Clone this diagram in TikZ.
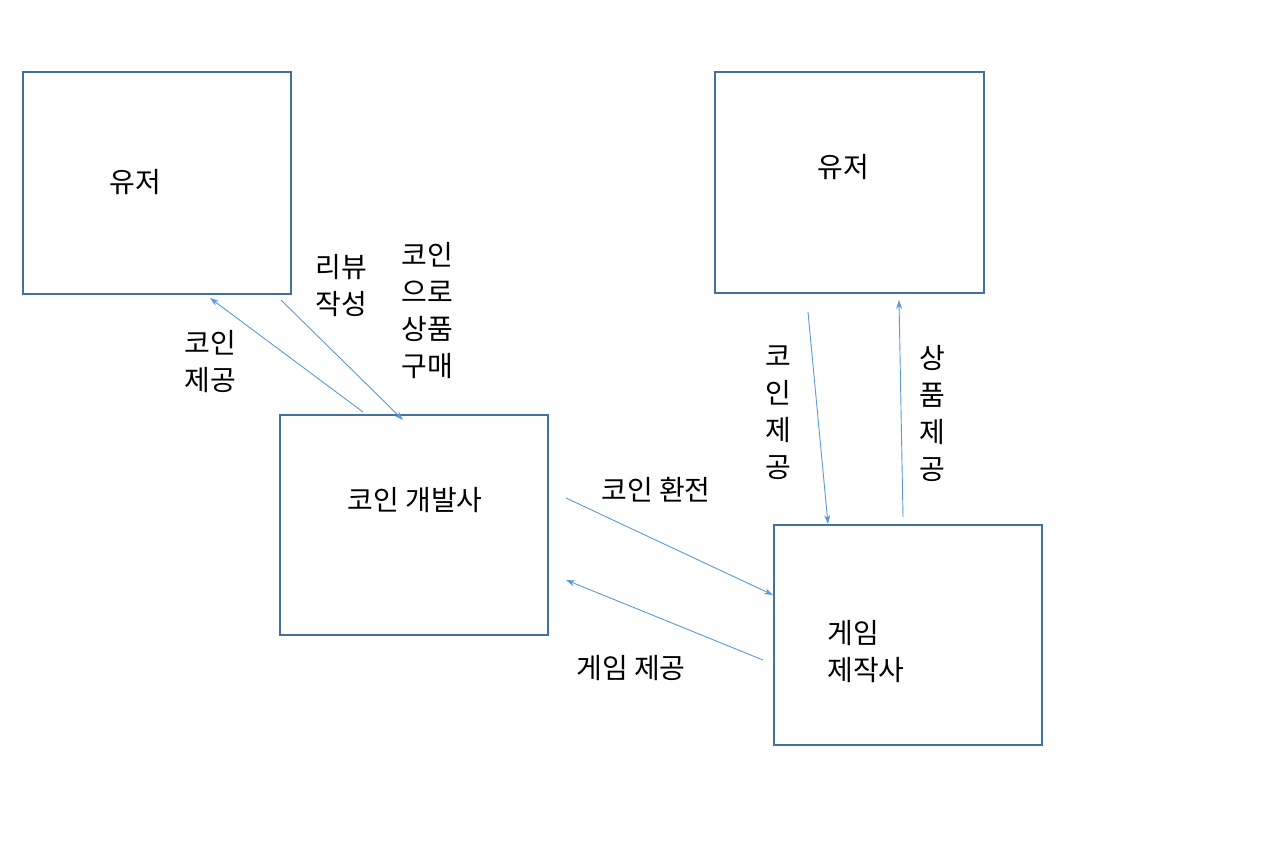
\documentclass[tikz,border=0pt]{standalone}
\usepackage{fontspec}
\usetikzlibrary{arrows.meta}
\newfontfamily\kr{Noto Sans CJK KR}
\definecolor{boxc}{HTML}{41719C}
\definecolor{arr}{HTML}{5B9BD5}
\begin{document}
\begin{tikzpicture}[x=1pt,y=-1pt,
  box/.style={draw=boxc,line width=1.6pt},
  con/.style={draw=arr,line width=0.9pt,-{Stealth[length=9pt,width=6pt]}},
  lbl/.style={font=\kr\fontsize{28}{37}\selectfont,align=center,inner sep=0pt},
  every node/.style={inner sep=0pt}]
\useasboundingbox[fill=white] (0,0) rectangle (1269,849);
\draw[box] (23,72) rectangle (291,294);
\draw[box] (715,72) rectangle (984,293);
\draw[box] (280,415) rectangle (548,635);
\draw[box] (774,525) rectangle (1042,745);
\node[lbl] (u1) at (135,182) {유저};
\node[lbl] (u2) at (843,167) {유저};
\node[lbl] (cd) at (415,500) {코인 개발사};
\node[lbl,align=left] (gm) at (866,652) {게임\\제작사};
\coordinate (a1s) at (363,412); \coordinate (a1e) at (210,298);
\coordinate (a2s) at (281,300); \coordinate (a2e) at (403,420);
\coordinate (a3s) at (566,498); \coordinate (a3e) at (773,595);
\coordinate (a4s) at (763,660); \coordinate (a4e) at (566,580);
\coordinate (a5s) at (808,312); \coordinate (a5e) at (828,524);
\coordinate (a6s) at (903,517); \coordinate (a6e) at (899,300);
\draw[con] (a1s) -- (a1e);
\draw[con] (a2s) -- (a2e);
\draw[con] (a3s) -- (a3e);
\draw[con] (a4s) -- (a4e);
\draw[con] (a5s) -- (a5e);
\draw[con] (a6s) -- (a6e);
\node[lbl] (l1) at (210,362) {코인\\제공};
\node[lbl] (l2) at (341,286) {리뷰\\작성};
\node[lbl] (l3) at (427,311) {코인\\으로\\상품\\구매};
\node[lbl] (l4) at (656,490) {코인 환전};
\node[lbl] (l5) at (631,668) {게임 제공};
\node[lbl] (l6) at (778,413) {코\\인\\제\\공};
\node[lbl] (l7) at (932,413) {상\\품\\제\\공};
\end{tikzpicture}
\end{document}
